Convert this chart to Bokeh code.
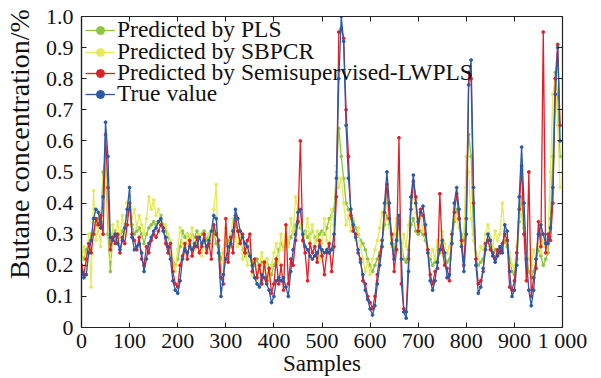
from bokeh.plotting import figure
from bokeh.models import Legend, LegendItem, LinearAxis, FixedTicker, Range1d
from bokeh.embed import file_html
from bokeh.resources import INLINE

samples = list(range(0, 1000, 5))

true_value = [
    0.18, 0.16, 0.17, 0.24, 0.28, 0.35, 0.38, 0.37, 0.32, 0.42,
    0.66, 0.55, 0.29, 0.28, 0.30, 0.27, 0.25, 0.28, 0.32, 0.38,
    0.45, 0.29, 0.25, 0.26, 0.27, 0.24, 0.18, 0.22, 0.27, 0.29,
    0.31, 0.32, 0.34, 0.35, 0.31, 0.29, 0.26, 0.22, 0.15, 0.12,
    0.11, 0.15, 0.22, 0.25, 0.24, 0.26, 0.25, 0.27, 0.26, 0.29,
    0.27, 0.28, 0.26, 0.28, 0.31, 0.36, 0.35, 0.24, 0.10, 0.17,
    0.22, 0.26, 0.27, 0.31, 0.38, 0.35, 0.31, 0.29, 0.27, 0.26,
    0.23, 0.20, 0.16, 0.14, 0.13, 0.17, 0.16, 0.14, 0.12, 0.08,
    0.10, 0.15, 0.16, 0.15, 0.16, 0.13, 0.10, 0.18, 0.25, 0.30,
    0.37, 0.38, 0.30, 0.26, 0.25, 0.23, 0.22, 0.23, 0.24, 0.26,
    0.25, 0.24, 0.25, 0.24, 0.25, 0.30, 0.48, 0.80, 1.00, 0.92,
    0.65, 0.48, 0.38, 0.33, 0.29, 0.25, 0.21, 0.17, 0.12, 0.09,
    0.06, 0.04, 0.07, 0.14, 0.20, 0.26, 0.40, 0.50, 0.40, 0.27,
    0.22, 0.28, 0.36, 0.22, 0.05, 0.03, 0.18, 0.42, 0.49, 0.40,
    0.34, 0.37, 0.39, 0.33, 0.24, 0.15, 0.12, 0.15, 0.21, 0.25,
    0.28, 0.24, 0.16, 0.17, 0.27, 0.40, 0.45, 0.38, 0.26, 0.18,
    0.30, 0.78, 0.86, 0.45, 0.20, 0.11, 0.13, 0.19, 0.25, 0.30,
    0.28, 0.23, 0.21, 0.23, 0.26, 0.24, 0.33, 0.31, 0.18, 0.10,
    0.12, 0.20, 0.42, 0.58, 0.40, 0.22, 0.12, 0.07, 0.12, 0.22,
    0.30, 0.33, 0.30, 0.27, 0.27, 0.32, 0.45, 0.75, 0.90, 0.60,
]

lwpls = [
    0.20, 0.17, 0.22, 0.27, 0.24, 0.30, 0.35, 0.33, 0.36, 0.30,
    0.62, 0.45, 0.25, 0.29, 0.27, 0.30, 0.24, 0.29, 0.27, 0.33,
    0.40, 0.30, 0.28, 0.25, 0.29, 0.22, 0.20, 0.26, 0.24, 0.28,
    0.30, 0.29, 0.31, 0.33, 0.32, 0.27, 0.24, 0.27, 0.18, 0.14,
    0.13, 0.20, 0.23, 0.27, 0.22, 0.28, 0.23, 0.26, 0.29, 0.24,
    0.26, 0.30, 0.24, 0.27, 0.22, 0.33, 0.30, 0.28, 0.16, 0.14,
    0.35, 0.21, 0.29, 0.24, 0.36, 0.31, 0.27, 0.30, 0.24, 0.28,
    0.30, 0.18, 0.22, 0.16, 0.20, 0.14, 0.21, 0.15, 0.19, 0.11,
    0.14, 0.22, 0.14, 0.20, 0.12, 0.33, 0.14, 0.22, 0.20, 0.28,
    0.34, 0.60, 0.28, 0.24, 0.15, 0.27, 0.24, 0.26, 0.21, 0.28,
    0.23, 0.17, 0.24, 0.27, 0.18, 0.26, 0.42, 0.95, 0.96, 0.93,
    0.70, 0.55, 0.36, 0.31, 0.30, 0.24, 0.22, 0.15, 0.14, 0.10,
    0.08, 0.06, 0.10, 0.17, 0.23, 0.28, 0.37, 0.46, 0.35, 0.30,
    0.18, 0.25, 0.61, 0.14, 0.06, 0.05, 0.22, 0.38, 0.47, 0.42,
    0.31, 0.38, 0.36, 0.30, 0.25, 0.17, 0.14, 0.18, 0.19, 0.43,
    0.25, 0.20, 0.19, 0.15, 0.30, 0.37, 0.43, 0.35, 0.28, 0.20,
    0.35, 0.82, 0.80, 0.40, 0.22, 0.14, 0.15, 0.18, 0.27, 0.28,
    0.25, 0.24, 0.22, 0.25, 0.24, 0.27, 0.30, 0.28, 0.13, 0.12,
    0.15, 0.24, 0.38, 0.52, 0.30, 0.15, 0.50, 0.10, 0.16, 0.19,
    0.34, 0.26, 0.95, 0.24, 0.30, 0.28, 0.40, 0.80, 0.91, 0.65,
]

pls = [
    0.24, 0.22, 0.25, 0.27, 0.30, 0.31, 0.33, 0.35, 0.34, 0.50,
    0.55, 0.30, 0.18, 0.30, 0.31, 0.29, 0.30, 0.31, 0.33, 0.36,
    0.40, 0.33, 0.30, 0.31, 0.32, 0.30, 0.27, 0.30, 0.32, 0.33,
    0.34, 0.33, 0.34, 0.36, 0.33, 0.31, 0.29, 0.27, 0.21, 0.20,
    0.22, 0.26, 0.31, 0.29, 0.30, 0.28, 0.30, 0.29, 0.31, 0.29,
    0.30, 0.31, 0.28, 0.30, 0.29, 0.31, 0.27, 0.26, 0.22, 0.24,
    0.27, 0.28, 0.26, 0.30, 0.33, 0.31, 0.28, 0.25, 0.23, 0.24,
    0.25, 0.21, 0.20, 0.22, 0.19, 0.21, 0.20, 0.22, 0.19, 0.17,
    0.20, 0.22, 0.25, 0.27, 0.26, 0.28, 0.27, 0.29, 0.31, 0.33,
    0.34, 0.32, 0.30, 0.31, 0.29, 0.30, 0.31, 0.29, 0.28, 0.30,
    0.31, 0.30, 0.32, 0.35, 0.36, 0.38, 0.50, 0.64, 0.55, 0.48,
    0.40, 0.38, 0.35, 0.34, 0.32, 0.30, 0.28, 0.27, 0.25, 0.22,
    0.20, 0.18, 0.20, 0.22, 0.24, 0.28, 0.33, 0.36, 0.33, 0.28,
    0.25, 0.30, 0.32, 0.27, 0.22, 0.21, 0.25, 0.33, 0.35, 0.31,
    0.30, 0.31, 0.30, 0.28, 0.25, 0.22, 0.20, 0.21, 0.22, 0.24,
    0.26, 0.23, 0.21, 0.22, 0.27, 0.34, 0.38, 0.35, 0.30, 0.28,
    0.45, 0.62, 0.55, 0.30, 0.22, 0.20, 0.21, 0.22, 0.26, 0.28,
    0.26, 0.24, 0.25, 0.24, 0.26, 0.25, 0.28, 0.26, 0.22, 0.18,
    0.17, 0.22, 0.34, 0.42, 0.32, 0.24, 0.18, 0.16, 0.18, 0.22,
    0.25, 0.23, 0.20, 0.22, 0.24, 0.35, 0.55, 0.82, 0.74, 0.55,
]

sbpcr = [
    0.22, 0.26, 0.20, 0.30, 0.13, 0.44, 0.28, 0.32, 0.26, 0.48,
    0.55, 0.38, 0.22, 0.33, 0.28, 0.34, 0.29, 0.36, 0.30, 0.40,
    0.42, 0.35, 0.38, 0.32, 0.36, 0.33, 0.30, 0.35, 0.42, 0.38,
    0.41, 0.36, 0.38, 0.34, 0.31, 0.33, 0.30, 0.28, 0.22, 0.18,
    0.25, 0.32, 0.27, 0.24, 0.30, 0.26, 0.32, 0.25, 0.27, 0.30,
    0.23, 0.28, 0.25, 0.30, 0.26, 0.38, 0.46, 0.22, 0.18, 0.25,
    0.32, 0.22, 0.30, 0.35, 0.29, 0.26, 0.31, 0.22, 0.25, 0.20,
    0.27, 0.17, 0.22, 0.15, 0.20, 0.24, 0.18, 0.22, 0.15, 0.20,
    0.24, 0.27, 0.21, 0.30, 0.25, 0.32, 0.26, 0.35, 0.30, 0.42,
    0.38, 0.33, 0.28, 0.30, 0.35, 0.28, 0.33, 0.26, 0.31, 0.22,
    0.27, 0.35, 0.28, 0.24, 0.38, 0.33, 0.52, 0.45, 0.48, 0.40,
    0.33, 0.36, 0.31, 0.35, 0.28, 0.32, 0.26, 0.22, 0.18, 0.21,
    0.17, 0.22, 0.25, 0.28, 0.32, 0.37, 0.34, 0.42, 0.32, 0.26,
    0.30, 0.35, 0.28, 0.24, 0.30, 0.26, 0.33, 0.40, 0.44, 0.37,
    0.33, 0.36, 0.31, 0.29, 0.26, 0.23, 0.25, 0.22, 0.28, 0.26,
    0.31, 0.27, 0.24, 0.26, 0.31, 0.38, 0.35, 0.32, 0.27, 0.30,
    0.55, 0.50, 0.35, 0.28, 0.24, 0.22, 0.26, 0.25, 0.30, 0.33,
    0.29, 0.26, 0.31, 0.28, 0.30, 0.40, 0.31, 0.28, 0.24, 0.20,
    0.19, 0.26, 0.38, 0.36, 0.30, 0.25, 0.22, 0.20, 0.25, 0.22,
    0.27, 0.24, 0.28, 0.26, 0.30, 0.50, 0.75, 0.80, 0.65, 0.45,
]

y_ticks = [0, 0.1, 0.2, 0.3, 0.4, 0.5, 0.6, 0.7, 0.8, 0.9, 1.0]
y_labels = ["0", "0.1", "0.2", "0.3", "0.4", "0.5", "0.6", "0.7", "0.8", "0.9", "1.0"]
x_ticks = [0, 100, 200, 300, 400, 500, 600, 700, 800, 900, 1000]
x_labels = ["0", "100", "200", "300", "400", "500", "600", "700", "800", "900", "1 000"]

FONT = "Liberation Serif"
C_PLS = "#8cc63f"
C_SB = "#e4ea5c"
C_LW = "#e31e26"
C_TV = "#2a59a8"
AX = "#222222"
TXT = "#111111"

p = figure(width=601, height=378, output_backend="svg", toolbar_location=None,
           x_range=Range1d(0, 1000), y_range=Range1d(0, 1.0),
           min_border_left=79, min_border_right=39, min_border_top=16, min_border_bottom=50)
p.background_fill_color = "white"
p.border_fill_color = "white"
p.grid.visible = False
p.outline_line_color = AX
p.outline_line_width = 1.2

series = [("Predicted by PLS", pls, C_PLS),
          ("Predicted by SBPCR", sbpcr, C_SB),
          ("Predicted by Semisupervised-LWPLS", lwpls, C_LW),
          ("True value", true_value, C_TV)]
legend_rows_vy = [284, 262, 241, 220]  # one legend row each, screen offsets from frame bottom

for (name, ys, col), vy in zip(series, legend_rows_vy):
    r1 = p.line(samples, ys, line_color=col, line_width=1.3)
    r2 = p.scatter(samples, ys, size=2.8, fill_color=col, line_color=col, marker="circle")
    leg = Legend(items=[LegendItem(label=name, renderers=[r1, r2])], location=(4, vy))
    leg.background_fill_alpha = 0
    leg.border_line_alpha = 0
    leg.label_text_font = FONT
    leg.label_text_font_size = "23.5px"
    leg.label_text_color = TXT
    leg.glyph_width = 30
    leg.glyph_height = 20
    leg.label_height = 20
    leg.spacing = 0
    leg.padding = 0
    leg.margin = 0
    leg.label_standoff = 2
    p.add_layout(leg)

for ax in (p.xaxis[0], p.yaxis[0]):
    ax.major_label_text_font = FONT
    ax.major_label_text_font_size = "22px"
    ax.major_label_text_color = TXT
    ax.axis_label_text_font = FONT
    ax.axis_label_text_font_style = "normal"
    ax.axis_label_text_color = TXT
    ax.major_tick_in = 5
    ax.major_tick_out = 0
    ax.minor_tick_line_color = None
    ax.axis_line_color = AX
    ax.axis_line_width = 1.2
    ax.major_tick_line_color = AX

p.xaxis[0].ticker = FixedTicker(ticks=x_ticks)
p.xaxis[0].major_label_overrides = {t: l for t, l in zip(x_ticks, x_labels)}
p.xaxis[0].axis_label = "Samples"
p.xaxis[0].axis_label_text_font_size = "23px"
p.xaxis[0].major_label_standoff = 0
p.xaxis[0].axis_label_standoff = -5

p.yaxis[0].ticker = FixedTicker(ticks=y_ticks)
p.yaxis[0].major_label_overrides = {t: l for t, l in zip(y_ticks, y_labels)}
p.yaxis[0].axis_label = "\u00a0" * 8 + "Butane concentration/%"
p.yaxis[0].axis_label_text_font_size = "28px"
p.yaxis[0].major_label_standoff = 8
p.yaxis[0].axis_label_standoff = 8

top = LinearAxis(ticker=FixedTicker(ticks=[], minor_ticks=x_ticks),
                 minor_tick_in=5, minor_tick_out=0, minor_tick_line_color=AX,
                 major_tick_line_color=None, axis_line_color=AX)
right = LinearAxis(ticker=FixedTicker(ticks=[], minor_ticks=y_ticks),
                   minor_tick_in=5, minor_tick_out=0, minor_tick_line_color=AX,
                   major_tick_line_color=None, axis_line_color=AX)
p.add_layout(top, "above")
p.add_layout(right, "right")

open("out.html", "w").write(file_html(p, INLINE))
